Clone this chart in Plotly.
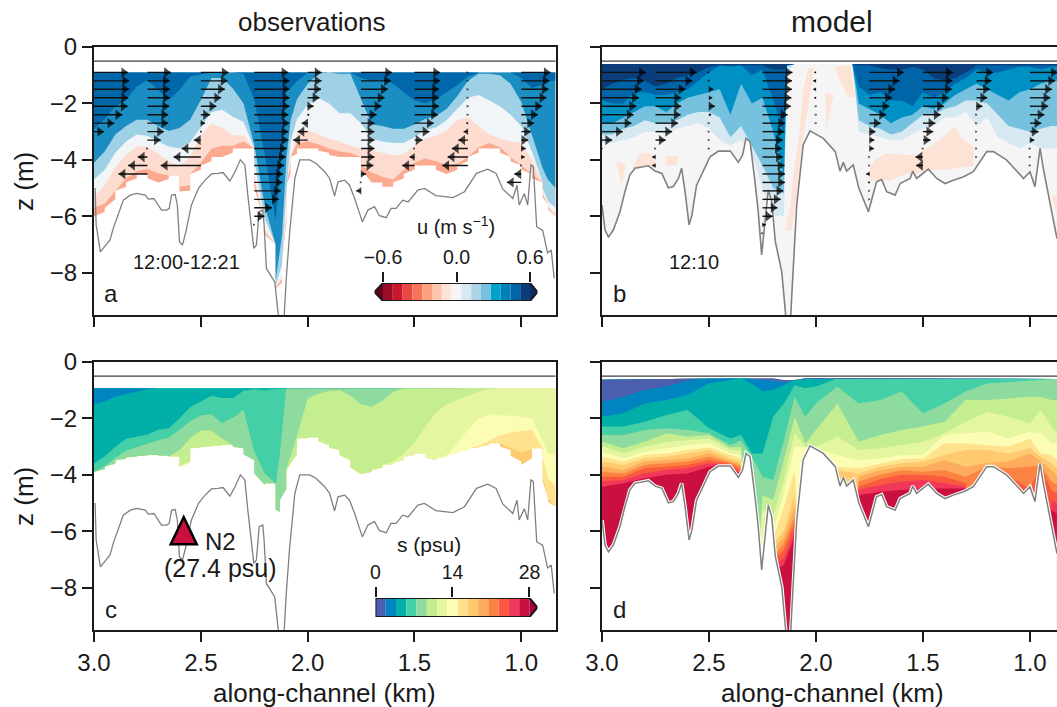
import numpy as np
import plotly.graph_objects as go

FONT = "Liberation Sans"
INK = "#1a1a1a"
W, H = 1057, 707

# ---------- bathymetry ----------
obs_bed_km = [2.995,2.99,2.97,2.95,2.925,2.91,2.886,2.863,2.83,2.80,2.76,2.746,2.72,2.70,2.684,2.66,2.648,2.637,2.62,2.61,2.60,2.586,2.57,2.544,2.51,2.48,2.45,2.42,2.396,2.364,2.34,2.315,2.294,2.28,2.263,2.252,2.24,2.227,2.21,2.204,2.193,2.17,2.154,2.139,2.13,2.112,2.10,2.084,2.06,2.037,1.99,1.96,1.92,1.897,1.874,1.858,1.827,1.804,1.78,1.744,1.718,1.687,1.664,1.632,1.61,1.586,1.555,1.53,1.484,1.453,1.40,1.32,1.266,1.21,1.157,1.118,1.087,1.04,1.02,1.01,.986,.97,.955,.944,.928,.90,.877,.86,.846]
obs_bed_z = [-5.0,-6.3,-7.26,-7.08,-6.84,-6.43,-5.95,-5.43,-5.25,-5.19,-5.25,-5.39,-5.37,-5.6,-5.78,-5.78,-5.72,-5.25,-5.23,-5.6,-6.9,-7.02,-6.55,-5.6,-5.0,-4.72,-4.5,-4.48,-4.45,-4.75,-4.42,-4.0,-4.18,-5.25,-6.43,-7.14,-7.02,-5.84,-5.78,-6.3,-7.85,-8.14,-8.33,-9.4,-9.8,-9.8,-8.2,-6.55,-4.66,-4.0,-4.0,-4.13,-4.42,-4.66,-5.28,-4.78,-4.72,-4.9,-5.37,-6.2,-5.78,-5.66,-5.98,-6.05,-5.72,-5.72,-5.43,-5.49,-5.07,-5.01,-5.27,-5.34,-5.13,-4.48,-4.33,-4.48,-5.03,-5.37,-4.9,-5.6,-5.2,-5.6,-4.18,-4.23,-6.37,-6.5,-7.3,-7.2,-8.2]
mod_bed_km = [3.0,2.986,2.97,2.947,2.916,2.893,2.87,2.846,2.783,2.752,2.72,2.69,2.667,2.643,2.628,2.612,2.593,2.58,2.558,2.526,2.495,2.456,2.40,2.363,2.343,2.327,2.308,2.285,2.27,2.254,2.238,2.223,2.207,2.19,2.16,2.145,2.137,2.12,2.114,2.09,2.06,2.028,1.966,1.91,1.888,1.872,1.857,1.826,1.80,1.755,1.717,1.693,1.67,1.63,1.607,1.56,1.548,1.53,1.475,1.436,1.397,1.358,1.31,1.265,1.202,1.171,1.11,1.03,1.0,.977,.953,.938,.90,.874]
mod_bed_z = [-5.6,-6.49,-6.73,-6.49,-5.84,-5.13,-4.54,-4.3,-4.21,-4.4,-4.48,-4.99,-4.95,-4.66,-4.3,-5.13,-6.31,-5.96,-4.9,-4.4,-3.89,-3.69,-3.69,-4.09,-3.83,-3.24,-3.36,-4.78,-5.84,-7.37,-6.19,-5.07,-5.48,-6.9,-7.97,-9.4,-9.9,-9.9,-8.92,-5.6,-3.47,-2.97,-3.24,-3.71,-4.4,-4.09,-4.4,-4.18,-5.0,-5.84,-4.78,-4.7,-5.13,-5.25,-4.84,-4.66,-4.4,-4.66,-4.33,-4.66,-4.84,-4.72,-4.6,-4.42,-3.71,-3.71,-4.0,-4.66,-4.42,-4.95,-3.59,-4.3,-5.72,-6.79]
surface_z = -0.5

# ---------- panel a: u observations, bottoms of colour classes (m below datum) ----------
a_km = [3.0,2.95,2.9,2.85,2.8,2.75,2.7,2.65,2.6,2.55,2.5,2.45,2.4,2.35,2.3,2.25,2.2,2.15,2.12,2.1,2.08,2.05,2.0,1.95,1.9,1.85,1.8,1.75,1.7,1.65,1.6,1.55,1.5,1.45,1.4,1.35,1.3,1.25,1.2,1.15,1.1,1.05,1.0,.95,.9,.875]
a_depths = [
[2.9,4.1,4.7,5.3,5.7,6.0],[2.2,3.3,4.0,4.5,5.4,5.7],[2.0,2.9,3.5,4.0,4.8,5.1],[1.75,2.7,3.2,3.65,4.5,4.8],
[1.05,2.45,3.0,3.4,4.3,4.5],[1.3,2.7,3.3,3.65,4.35,4.8],[1.75,2.9,3.4,3.9,4.6,4.8],[2.0,3.05,3.65,4.2,4.5,4.55],
[1.05,2.7,3.55,4.25,5.4,5.7],[1.05,2.45,3.2,3.55,4.4,4.5],[.9,1.3,2.5,2.7,3.8,4.2],[.9,.9,2.1,2.7,3.4,3.9],
[.9,1.3,2.35,3.05,3.6,3.9],[.9,1.65,2.6,3.2,3.4,3.6],[1.0,2.35,2.7,3.05,3.3,3.6],[2.7,4.6,5.4,6.0,6.2,6.3],
[5.0,6.7,6.8,6.9,6.95,7.0],[6.85,9.2,9.5,9.5,9.5,9.5],[1.5,5.0,6.5,7.2,7.4,7.6],[1.5,3.0,3.8,4.4,4.7,4.9],
[1.4,2.0,2.7,3.2,3.5,3.9],[.9,1.6,2.3,2.9,3.3,3.6],[.9,1.0,1.8,3.0,3.4,3.6],[.9,.9,1.8,3.2,3.5,3.75],
[.9,.9,2.2,3.3,3.7,3.9],[.9,1.0,2.5,3.4,3.7,3.9],[.9,.9,2.2,3.6,3.8,3.9],[1.3,2.8,3.2,3.6,4.6,4.8],
[1.1,2.7,3.3,3.7,4.3,4.8],[1.2,2.9,3.4,3.8,4.9,5.1],[1.4,2.9,3.4,3.9,4.5,4.8],[1.8,2.9,3.4,3.7,4.2,4.5],
[2.0,2.6,3.0,3.3,4.0,4.2],[2.0,2.5,2.9,3.2,3.9,4.2],[1.7,2.4,2.8,3.1,4.2,4.5],[1.5,2.0,2.4,2.8,4.2,4.5],
[1.2,1.5,2.0,2.4,4.1,4.2],[.9,.9,1.6,2.6,3.7,3.9],[.9,1.0,1.8,3.0,3.4,3.6],[.9,.9,2.0,3.2,3.4,3.6],
[.9,1.1,2.2,3.3,3.7,3.9],[.9,1.5,2.6,3.4,4.1,4.2],[1.3,2.4,3.0,3.4,4.3,4.5],[1.6,3.9,4.4,4.6,4.7,4.8],
[1.2,4.5,5.3,5.4,5.5,5.6],[1.2,5.0,5.7,5.9,6.0,6.0]]
a_colors = ["#0068aa","#1a8dc2","#9ed0e6","#f1f5f7","#fddccf","#fba98f"]
a_top = -0.9
a_end_km = 0.84

# ---------- panel b: u model ----------
b_km = [3.0,2.95,2.9,2.85,2.8,2.75,2.7,2.65,2.6,2.55,2.5,2.45,2.4,2.35,2.3,2.25,2.2,2.15,2.135,2.1,1.85,1.83,1.8,1.75,1.7,1.65,1.6,1.55,1.5,1.45,1.4,1.35,1.3,1.25,1.2,1.15,1.1,1.05,1.0,.95,.9,.874]
b_depths = [
[1.5,1.9,2.7,3.1,3.4],[1.3,2.0,2.7,3.1,3.4],[1.15,2.0,2.5,2.9,3.3],[1.1,1.6,2.3,2.8,3.2],[1.2,1.6,2.1,2.6,3.0],
[1.4,1.7,2.1,2.7,3.0],[1.3,1.7,2.3,2.7,3.1],[1.1,1.6,2.0,2.6,2.9],[1.0,1.5,1.8,2.4,2.8],[.9,1.2,1.7,2.3,2.7],
[.7,.9,1.6,2.3,2.9],[.65,.65,1.5,2.5,3.3],[.65,.7,2.4,3.2,3.5],[.65,.65,1.3,2.8,3.3],[.65,1.0,2.0,3.5,3.8],
[.65,.8,1.8,4.2,5.0],[.8,1.9,3.0,5.0,6.0],[.8,3.0,4.6,5.2,6.0],[.65,.65,.65,.7,.9],[.6,.6,.6,.6,.6],
[.6,.6,.6,.6,.6],[.6,.6,.6,.6,.6],[.65,1.4,2.0,2.6,3.0],[.65,1.7,2.2,2.8,3.1],[.75,1.6,2.4,2.9,3.2],
[.8,1.9,2.7,3.1,3.3],[.8,1.9,2.5,3.0,3.3],[.7,2.1,2.4,2.7,3.1],[.8,1.6,2.1,2.4,2.9],[1.1,1.8,2.2,2.4,2.8],
[1.2,1.6,2.0,2.2,2.5],[1.1,1.3,1.7,2.1,2.5],[.9,1.1,1.5,1.9,2.3],[.65,.8,1.3,1.9,2.8],[.65,.9,1.5,2.0,2.5],
[.65,.9,1.7,2.4,3.2],[.65,.8,1.9,2.8,3.4],[.65,.7,1.6,2.9,3.6],[.65,.7,1.5,3.0,3.4],[.65,.8,1.3,2.9,3.6],
[.65,.7,1.2,2.8,3.6],[.65,.7,1.2,2.8,3.6]]
b_colors = ["#0a3d7a","#0065a8","#0090c4","#76c2de","#d6e8f1"]
b_base_color = "#f5f5f5"
b_pink_color = "#fde2d6"
b_top = -0.6
pink_km = [
 [1.75,1.724,1.67,1.576,1.53,1.467,1.404,1.35,1.326,1.264,1.264,1.404,1.467,1.53,1.576,1.65,1.75],
 [2.145,2.12,2.106,2.08,2.06,2.036,2.01,2.036,2.07,2.09,2.114],
 [1.91,1.84,1.817,1.85,1.89],
 [1.957,1.918,1.95],
 [2.934,2.89,2.908],
 [2.86,2.82,2.77,2.745,2.76],
 [2.705,2.643,2.65,2.7],
 [.898,.874,.874]]
pink_z = [
 [-4.3,-4.0,-3.77,-3.83,-3.83,-3.53,-3.18,-2.8,-3.18,-3.53,-4.22,-4.36,-4.36,-4.48,-4.48,-4.72,-4.72],
 [-6.5,-5.7,-4.5,-3.3,-1.5,-.75,-.75,-2.1,-3.65,-5.3,-6.5],
 [-.7,-.65,-1.76,-1.76,-1.17],
 [-1.64,-1.7,-2.88],
 [-4.07,-4.13,-4.9],
 [-4.3,-3.77,-3.77,-4.18,-4.3],
 [-3.83,-3.9,-4.2,-4.2],
 [-5.25,-5.3,-6.0]]

# ---------- panel c: salinity observations ----------
c_km = [3.0,2.95,2.9,2.85,2.8,2.75,2.7,2.65,2.6,2.55,2.5,2.45,2.4,2.35,2.3,2.25,2.2,2.15,2.13,2.1,2.05,2.0,1.95,1.9,1.85,1.8,1.75,1.7,1.65,1.6,1.55,1.5,1.45,1.4,1.35,1.3,1.25,1.2,1.15,1.1,1.05,1.0,.95,.9,.875]
c_bottom = [3.89,3.71,3.48,3.38,3.33,3.3,3.33,3.36,4.07,3.06,3.0,2.98,2.94,3.06,3.48,4.42,4.3,5.6,4.9,3.83,2.71,2.67,2.94,3.12,3.48,4.0,3.95,3.83,3.65,3.59,3.36,3.24,3.53,3.42,3.3,3.18,3.06,3.0,2.88,3.12,3.53,3.77,3.06,4.83,5.13]
c_depths = [
[1.5,3.6],[1.3,3.1,3.5],[1.15,2.9,3.3],[1.1,2.55,3.0],[1.0,2.75,3.0],[.93,2.4,2.8],[.93,2.4,2.75],[.93,2.3,2.6],
[.93,1.7,2.2,2.9,4.0],[.93,1.5,2.0,2.5],[.93,1.3,1.8,2.35],[.93,1.1,1.9,2.5],[.93,1.45,2.45],[.93,1.1,1.5],[.93,.93,1.9],
[.93,1.0],[.93,1.0,3.5],[.93,.93,4.8],[.93,.93,.93],[.93,.93,.93],[.93,.93,.93,1.4],[.93,.93,.93,1.2],[.93,.93,.93,1.05],
[.93,.93,.93,1.0],[.93,.93,.93,1.0],[.93,.93,.93,1.4],[.93,.93,.93,1.6],[.93,.93,.93,1.55],[.93,.93,.93,1.2],
[.93,.93,.93,.93,3.4],[.93,.93,.93,.93,3.1],[.93,.93,.93,.93,2.6],[.93,.93,.93,.93,2.0],[.93,.93,.93,.93,1.6],
[.93,.93,.93,.93,1.4,3.2],[.93,.93,.93,.93,1.3,2.6],[.93,.93,.93,.93,1.1,2.2],[.93,.93,.93,.93,1.0,1.8,2.9],
[.93,.93,.93,.93,.93,1.9,2.7,2.88],[.93,.93,.93,.93,.93,1.9,2.5,2.9],[.93,.93,.93,.93,.93,1.9,2.5,3.2],
[.93,.93,.93,.93,.93,2.0,2.4,3.2],[.93,.93,.93,.93,.93,2.0,2.4,3.0],[.93,.93,.93,.93,.93,3.2,3.9,4.6],[.93,.93,.93,.93,.93,3.3,4.4,5.13]]
s_colors = ["#4c5fae","#0085c1","#00afa8","#45cfa6","#8edba0","#c5ee90","#e4f6a0","#fcfdb5","#fee28d","#fec96f","#fdab5c","#fb8240","#f9593f","#f2385a","#c9103f"]
s_over = "#a5003f"
c_top = -0.93
c_colors = s_colors[1:10]

# ---------- panel d: salinity model ----------
d_km = [3.0,2.9,2.8,2.7,2.6,2.5,2.4,2.35,2.3,2.25,2.2,2.15,2.1,2.05,2.0,1.9,1.8,1.7,1.6,1.5,1.4,1.3,1.2,1.1,1.0,.95,.9,.874]
d_top = [-.63,-.62,-.62,-.6,-.6,-.58,-.58,-.58,-.6,-.62,-.66,-.72,-.64,-.6,-.58,-.6,-.6,-.6,-.6,-.6,-.6,-.6,-.6,-.6,-.58,-.58,-.6,-.6]
d_depths = [
[1.41,1.94,2.29,2.59,2.83,2.98,3.18,3.36,3.53,3.71,3.89,4.07,4.24,4.42],
[1.23,1.82,2.29,2.59,3.06,3.24,3.42,3.53,3.65,3.83,3.95,4.07,4.18,4.3],
[.99,1.47,2.12,2.41,2.83,3.0,3.18,3.3,3.42,3.53,3.65,3.77,3.95,4.12],
[.87,1.35,1.88,2.35,2.53,2.83,3.06,3.24,3.36,3.48,3.59,3.71,3.83,4.0],
[.66,1.17,1.7,2.41,2.65,2.77,2.94,3.12,3.24,3.42,3.53,3.65,3.77,3.95],
[.58,.76,2.35,2.53,2.59,2.71,2.88,3.03,3.12,3.24,3.36,3.48,3.59,3.71],
[.58,.64,2.71,2.94,3.03,3.12,3.24,3.3,3.42,3.5,3.57,3.62,3.66,3.69],
[.58,.58,2.59,2.77,3.0,3.14,3.3,3.42,3.53,3.65,3.71,3.83,3.95,4.0],
[.58,.76,3.24,3.36],
[.58,1.05,3.24,4.07,4.72,5.25,6.08,7.26],
[.58,.99,1.94,4.18,4.89,5.48,5.96,6.25,6.49,6.67,6.9,7.02,7.2,7.38],
[.64,.82,1.47,2.77,3.48,4.18,4.66,5.13,5.96,6.19,6.43,6.67,6.96,7.2],
[.64,.64,.82,1.23,1.94,2.53,3.0,3.83,4.66,5.13,5.48,5.72,5.96,6.19],
[.58,.58,.93,1.94,2.88,3.0,3.03],
[.58,.58,.87,1.47,2.41,3.0,3.06],
[.58,.58,.58,.87,1.47,2.65,3.3,3.71,3.83],
[.58,.58,.58,1.47,2.83,3.12,3.48,3.77,3.95,4.07,4.24,4.42,4.54,4.72],
[.58,.58,.58,1.35,2.59,3.06,3.42,3.62,3.71,3.85,4.0,4.16,4.36,4.6],
[.58,.58,.58,1.05,2.41,2.94,3.3,3.45,3.59,3.71,3.85,4.0,4.24,4.54],
[.58,.58,.58,1.82,2.29,2.83,3.3,3.42,3.53,3.71,3.89,4.0,4.18,4.48],
[.58,.58,.58,1.47,2.12,2.53,2.59,2.88,3.3,3.48,3.83,4.07,4.3,4.48],
[.58,.58,.58,1.05,1.35,2.12,2.53,2.88,3.12,3.71,4.07,4.3,4.42,4.48],
[.58,.58,.58,.76,1.35,1.76,2.47,2.94,3.12,3.59,3.71],
[.58,.58,.58,.7,1.29,1.94,2.71,3.0,3.24,3.53,3.77,4.07],
[.58,.58,.58,.66,1.23,2.18,2.47,2.71,3.06,3.24,3.71,4.48,4.66],
[.58,.58,.58,.64,1.23,1.7,2.53,3.24,3.36,3.53,3.65,3.71],
[.58,.58,.58,.61,1.35,2.29,2.88,3.3,3.59,3.83,4.24,4.54,4.89,5.25],
[.58,.58,.58,.61,1.35,2.53,2.88,3.48,3.77,4.0,4.36,4.66,5.01,5.37]]

# ---------- velocity profiles ----------
station_km = [3.0,2.75,2.5,2.25,2.0,1.75,1.5,1.25,1.0]
first_depth = -0.9
depth_step = 0.3
a_u = [
 [.64,.66,.66,.64,.63,.53,.38,.19],
 [.44,.42,.42,.42,.41,.39,.39,.31,.25,.01,-.18,-.36,-.54],
 [.52,.5,.45,.38,.29,.17,.08,.02,-.13,-.36,-.51,-.75],
 [.64,.66,.66,.66,.66,.64,.66,.64,.64,.61,.59,.56,.54,.53,.5,.46,.33,.19,.01],
 [.26,.26,.25,.22,.11,.03,-.11,-.19,-.27],
 [.58,.56,.5,.44,.38,.29,.25,.25,.25,.25,.25,.23,.09,.01,-.09],
 [.48,.48,.46,.46,.46,.44,.36,.28,.15,.01,-.09,-.23],
 [.01,.01,.01,.01,.01,.01,-.03,-.08,-.18,-.3,-.38,-.48],
 [.55,.53,.51,.47,.39,.31,.24,.18,.13,.08,.06,.01,-.13,-.27]]
b_u = [
 [.82,.78,.74,.69,.64,.59,.55,.39,.19,.01],
 [.77,.69,.56,.48,.48,.47,.42,.31,.19,.01,-.06,-.06],
 [-.03,.01,.08,.06,.11,.04,.01,.01,.01,.01],
 [.56,.55,.55,.54,.53,.47,.42,.41,.38,.36,.38,.41,.42,.42,.39,.34,.28,.19,.06,.01],
 [-.03,-.05,-.05,-.03,.01,.01,.01],
 [.64,.56,.48,.42,.37,.31,.21,.11,.09,.08,.01,.01,-.06,-.03,.01,.01],
 [.56,.55,.54,.48,.39,.33,.23,.19,.14,.01,-.14,-.13],
 [.31,.28,.25,.2,.11,.01,.01,.01,.01,.01,.01],
 [.52,.47,.41,.38,.34,.27,.21,.16,.08,.01,.01,.01]]
KM_PER_MS = 0.25
PX_PER_KM = 214.0

# ---------- colour bars ----------
u_colors = ["#9a0e27","#c9192e","#e8483f","#f7745a","#fca082","#fdc4ac","#fde2d6","#f5f5f5","#d6e8f1","#acd6e8","#76c2de","#00a2c8","#0080b9","#0065a8","#0a3d7a"]
u_under, u_over = "#67001f", "#0a2f66"
u_limits = (-0.6, 0.6)
s_limits = (0, 28)
n2_km, n2_z = 2.58, -5.96

fig = go.Figure()


def area(xs, tops, bottoms, color, ax):
    fig.add_trace(go.Scatter(
        x=list(xs) + list(xs)[::-1], y=list(tops) + list(bottoms)[::-1], mode="lines",
        fill="toself", fillcolor=color, line=dict(width=0), hoverinfo="skip", showlegend=False,
        xaxis="x" + ax, yaxis="y" + ax))


def line(xs, ys, color, width, ax):
    fig.add_trace(go.Scatter(x=xs, y=ys, mode="lines", line=dict(color=color, width=width),
                             hoverinfo="skip", showlegend=False, xaxis="x" + ax, yaxis="y" + ax))


def pad(rows, n, fill=9.9):
    return np.array([r + [fill] * (n - len(r)) for r in rows], dtype=float)


def smooth_columns(km, depths, bottom, colors, top, ax, end):
    """Observed profiles: class limits run smoothly between profiles, the lowest edge keeps its bins."""
    edges = np.array(list(km) + [end], dtype=float)
    centres = (edges[:-1] + edges[1:]) / 2
    xs = [v for i in range(len(km)) for v in (edges[i], edges[i + 1])]
    for k in range(depths.shape[1] - 1, -1, -1):
        at_edge = np.interp(-edges, -centres, depths[:, k])
        ys = []
        for i in range(len(km)):
            ys += [-min(at_edge[i], bottom[i]), -min(at_edge[i + 1], bottom[i])]
        area(xs, [top] * len(xs), ys, colors[k], ax)


def model_columns(km, depths, colors, top, ax):
    """Paint classes from the deepest up; each one runs from the surface to its lower limit."""
    for k in range(depths.shape[1] - 1, -1, -1):
        tops = list(top) if np.ndim(top) else [top] * len(km)
        area(km, tops, list(-depths[:, k]), colors[k], ax)


def arrows(u_sets, ax):
    sx, sy, mx, my, sym, size = [], [], [], [], [], []
    for km0, us in zip(station_km, u_sets):
        for i, u in enumerate(us):
            z = first_depth - depth_step * i
            tip = km0 - u * KM_PER_MS
            sx += [km0, tip, None]
            sy += [z, z, None]
            s = 9.0 if abs(u) >= 0.12 else max(2.4, abs(u) / 0.12 * 9.0)
            r = s / 2 / PX_PER_KM
            mx.append(tip + (r if u > 0 else -r))
            my.append(z)
            sym.append("triangle-right" if u > 0 else "triangle-left")
            size.append(s)
    fig.add_trace(go.Scatter(x=sx, y=sy, mode="lines", line=dict(color="#111111", width=1.4),
                             hoverinfo="skip", showlegend=False, xaxis="x" + ax, yaxis="y" + ax))
    fig.add_trace(go.Scatter(x=mx, y=my, mode="markers",
                             marker=dict(symbol=sym, size=size, color="#000000", line=dict(width=0)),
                             hoverinfo="skip", showlegend=False, xaxis="x" + ax, yaxis="y" + ax))


def bed_mask(ax):
    area(mod_bed_km, mod_bed_z, [-10.0] * len(mod_bed_z), "#ffffff", ax)


# Panel a
a_arr = np.array(a_depths)
smooth_columns(a_km, a_arr, a_arr[:, -1], a_colors, a_top, "", a_end_km)
line(obs_bed_km, obs_bed_z, "#808080", 1.3, "")
line([3.0, 0.8], [surface_z, surface_z], "#404040", 1.1, "")
arrows(a_u, "")

# Panel b
b_arr = np.array(b_depths)
area(b_km, [b_top] * len(b_km), [-9.9] * len(b_km), b_base_color, "2")
for xs, zs in zip(pink_km, pink_z):
    fig.add_trace(go.Scatter(x=xs, y=zs, mode="lines", fill="toself", fillcolor=b_pink_color, line=dict(width=0),
                             hoverinfo="skip", showlegend=False, xaxis="x2", yaxis="y2"))
model_columns(b_km, b_arr, b_colors, b_top, "2")
bed_mask("2")
line(mod_bed_km, mod_bed_z, "#808080", 1.6, "2")
line([3.0, 0.8], [surface_z, surface_z], "#404040", 1.1, "2")
arrows(b_u, "2")

# Panel c
c_arr = np.minimum(pad(c_depths, len(c_colors)), np.array(c_bottom)[:, None])
smooth_columns(c_km, c_arr, c_bottom, c_colors, c_top, "3", a_end_km)
line(obs_bed_km, obs_bed_z, "#808080", 1.3, "3")
line([3.0, 0.8], [surface_z, surface_z], "#404040", 1.1, "3")

# Panel d
d_arr = pad(d_depths, 14)
area(d_km, d_top, [-9.9] * len(d_km), s_colors[14], "4")
model_columns(d_km, d_arr, s_colors[:14], d_top, "4")
bed_mask("4")
line(mod_bed_km, mod_bed_z, "#ffffff", 3.6, "4")
line(mod_bed_km, mod_bed_z, "#808080", 1.5, "4")
line([3.0, 0.8], [surface_z, surface_z], "#404040", 1.1, "4")


def colourbar(colors, limits, under, over, ax):
    n = len(colors)
    lo, hi = limits
    w = (hi - lo) / n
    fig.add_trace(go.Bar(x=[lo + w * (i + .5) for i in range(n)], y=[1] * n, width=w, marker=dict(color=colors, line=dict(width=0)),
                         hoverinfo="skip", showlegend=False, xaxis="x" + ax, yaxis="y" + ax))
    ext = fig.layout["xaxis" + ax].range
    xs, ys = [lo, hi, ext[1], hi, lo], [0, 0, .5, 1, 1]
    if under:
        xs += [ext[0], lo]
        ys += [.5, 0]
    else:
        xs += [lo]
        ys += [0]
    fig.add_trace(go.Scatter(x=[hi, ext[1], hi, hi], y=[0, .5, 1, 0], mode="lines", fill="toself", fillcolor=over,
                             line=dict(width=0), hoverinfo="skip", showlegend=False, xaxis="x" + ax, yaxis="y" + ax))
    if under:
        fig.add_trace(go.Scatter(x=[lo, ext[0], lo, lo], y=[0, .5, 1, 0], mode="lines", fill="toself", fillcolor=under,
                                 line=dict(width=0), hoverinfo="skip", showlegend=False, xaxis="x" + ax, yaxis="y" + ax))
    fig.add_trace(go.Scatter(x=xs, y=ys, mode="lines", line=dict(color=INK, width=2), cliponaxis=False,
                             hoverinfo="skip", showlegend=False, xaxis="x" + ax, yaxis="y" + ax))


def dom_x(a, b):
    return [a / W, b / W]


def dom_y(top, bottom):
    return [1 - bottom / H, 1 - top / H]


axis_style = dict(showline=True, linecolor=INK, linewidth=2, ticks="outside", tickwidth=2, ticklen=10,
                  tickcolor=INK, showgrid=False, zeroline=False,
                  tickfont=dict(family=FONT, size=24, color=INK))
xticks = [3.0, 2.5, 2.0, 1.5, 1.0]
yticks = [0, -2, -4, -6, -8]
left, right = dom_x(94, 555.5), dom_x(602, 1057)
top, bot = dom_y(47, 315), dom_y(362, 630)
xr_left, xr_right = [3.0, 0.84], [3.0, 3.0 - 455 / PX_PER_KM]
yr = [-9.5, 0]

fig.update_layout(
    width=W, height=H, margin=dict(l=0, r=0, t=0, b=0, autoexpand=False), paper_bgcolor="white", plot_bgcolor="white", showlegend=False,
    barmode="overlay",
    xaxis=dict(domain=left, range=xr_left, anchor="y", mirror=True, tickvals=xticks, showticklabels=False, **axis_style),
    yaxis=dict(domain=top, range=yr, anchor="x", mirror=True, tickvals=yticks, **axis_style),
    xaxis2=dict(domain=right, range=xr_right, anchor="y2", mirror=True, tickvals=xticks, showticklabels=False, **axis_style),
    yaxis2=dict(domain=top, range=yr, anchor="x2", tickvals=yticks, showticklabels=False, **axis_style),
    xaxis3=dict(domain=left, range=xr_left, anchor="y3", mirror=True, tickvals=xticks, tickformat=".1f", **axis_style),
    yaxis3=dict(domain=bot, range=yr, anchor="x3", mirror=True, tickvals=yticks, **axis_style),
    xaxis4=dict(domain=right, range=xr_right, anchor="y4", mirror=True, tickvals=xticks, tickformat=".1f", **axis_style),
    yaxis4=dict(domain=bot, range=yr, anchor="x4", tickvals=yticks, showticklabels=False, **axis_style),
    xaxis5=dict(domain=dom_x(374.5, 537.5), range=[-0.6 - 8.5 / 122.5, 0.6 + 7.5 / 122.5], anchor="y5", side="top", showline=False, showgrid=False, zeroline=False,
                tickvals=[-0.6, 0.0, 0.6], tickformat=".1f", ticks="outside", ticklen=10, tickwidth=2, tickcolor=INK, tickfont=dict(family=FONT, size=19.5, color=INK)),
    yaxis5=dict(domain=dom_y(283, 301), range=[0, 1], anchor="x5", visible=False),
    xaxis6=dict(domain=dom_x(375.5, 537.5), range=[0, 28 + 8 / 5.475], anchor="y6", side="top", showline=False, showgrid=False, zeroline=False,
                tickvals=[0, 14, 28], ticks="outside", ticklen=10, tickwidth=2, tickcolor=INK, tickfont=dict(family=FONT, size=19.5, color=INK)),
    yaxis6=dict(domain=dom_y(598, 617), range=[0, 1], anchor="x6", visible=False),
)
colourbar(u_colors, u_limits, u_under, u_over, "5")
colourbar(s_colors, s_limits, None, s_over, "6")


def label(text, x, y, size, anchor="center", angle=0):
    fig.add_annotation(text=text, x=x / W, y=1 - y / H, xref="paper", yref="paper", showarrow=False, xanchor=anchor,
                       yanchor="middle", textangle=angle, font=dict(family=FONT, size=size, color=INK))


label("observations", 311, 22, 26)
label("model", 832, 22, 30)
label("z (m)", 24, 182, 26, angle=-90)
label("z (m)", 24, 497, 26, angle=-90)
label("along-channel (km)", 324.5, 693, 26)
label("along-channel (km)", 832, 693, 26)
label("a", 111, 294, 24)
label("b", 619, 294, 24)
label("c", 111, 609, 24)
label("d", 619, 609, 24)
label("12:00-12:21", 186, 262, 20)
label("12:10", 694, 262, 20)
label("u (m s<sup>−1</sup>)", 456, 226, 20)
label("s (psu)", 429, 544, 21)
label("N2", 220, 541, 24)
label("(27.4 psu)", 220, 568, 25)

fig.add_shape(type="path", xref="x3", yref="y3", xsizemode="pixel", ysizemode="pixel", xanchor=n2_km, yanchor=n2_z,
              path="M -13 -14 L 13 -14 L 0 13 Z", fillcolor="#c9103f", line=dict(color="#000000", width=2.5), layer="above")

fig.write_html("out.html", config={"displayModeBar": False},
               post_script="document.body.style.margin='0';document.documentElement.style.overflow='hidden';")
